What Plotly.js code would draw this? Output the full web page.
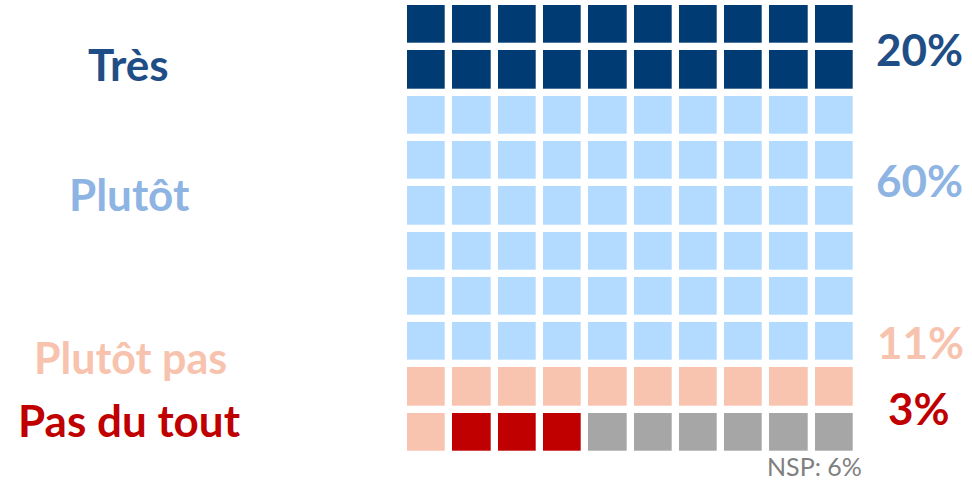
<!DOCTYPE html>
<html>
<head>
<meta charset="utf-8">
<script src="https://cdn.plot.ly/plotly-3.0.1.min.js"></script>
<style>html,body{margin:0;padding:0;background:#fff;}#chart{width:972px;height:483px;}</style>
</head>
<body>
<div id="chart"></div>
<script>
// ---- data ----
const categories = ["Très", "Plutôt", "Plutôt pas", "Pas du tout"];
const percents = [20, 60, 11, 3];
const nspLabel = "NSP";
const nspPercent = 6;
const cellColors = ["#003B73", "#B3DAFF", "#F8C4B0", "#C00000", "#A6A6A6"];
const textColors = ["#1F4E87", "#8DB4E2", "#F8C3AE", "#C00000"];
const gridCols = 10, gridRows = 10;

// ---- build waffle grid from counts (reading order) ----
const counts = percents.concat([nspPercent]);
const seq = [];
counts.forEach((c, k) => { for (let i = 0; i < c; i++) seq.push(k); });
const z = [], xs = [], ys = [];
for (let r = 0; r < gridRows; r++) {
  const row = [];
  for (let c = 0; c < gridCols; c++) row.push(seq[r * gridCols + c]);
  z.push(row);
}
for (let c = 0; c < gridCols; c++) xs.push(c);
for (let r = 0; r < gridRows; r++) ys.push(r);

const n = cellColors.length;
const colorscale = cellColors.map((col, i) => [i / (n - 1), col]);

const W = 972, H = 483;
const m = {l: 404, r: 115, t: 2, b: 28};
const pw = W - m.l - m.r, ph = H - m.t - m.b;
const px = x => (x - m.l) / pw;
const py = y => 1 - (y - m.t) / ph;

const font = "Lato, 'Open Sans', sans-serif";
const leftPos = [[128, 64, 44], [129, 194, 44], [130, 357, 43], [129, 420, 44]];
const rightPos = [[919, 49], [919, 180], [920, 342], [919, 408]];

const annotations = [];
categories.forEach((name, i) => {
  annotations.push({
    text: "<b>" + name + "</b>", xref: "paper", yref: "paper",
    x: px(leftPos[i][0]), y: py(leftPos[i][1]), xanchor: "center", yanchor: "middle",
    showarrow: false, font: {family: font, size: leftPos[i][2], color: textColors[i]}
  });
  annotations.push({
    text: "<b>" + percents[i] + "%</b>", xref: "paper", yref: "paper",
    x: px(rightPos[i][0]), y: py(rightPos[i][1]), xanchor: "center", yanchor: "middle",
    showarrow: false, font: {family: font, size: 44, color: textColors[i]}
  });
});
annotations.push({
  text: nspLabel + ": " + nspPercent + "%", xref: "paper", yref: "paper",
  x: px(814), y: py(466), xanchor: "center", yanchor: "middle",
  showarrow: false, font: {family: font, size: 25, color: "#808080"}
});

const trace = {
  type: "heatmap", z: z, x: xs, y: ys,
  colorscale: colorscale, zmin: 0, zmax: n - 1, showscale: false,
  xgap: 7.3, ygap: 7.3, hoverinfo: "skip"
};

const layout = {
  width: W, height: H, margin: m,
  paper_bgcolor: "#fff", plot_bgcolor: "#fff",
  xaxis: {visible: false, range: [-0.5, gridCols - 0.5], fixedrange: true},
  yaxis: {visible: false, range: [gridRows - 0.5, -0.5], fixedrange: true},
  annotations: annotations, showlegend: false
};

Plotly.newPlot("chart", [trace], layout, {displayModeBar: false, staticPlot: true});
</script>
</body>
</html>
